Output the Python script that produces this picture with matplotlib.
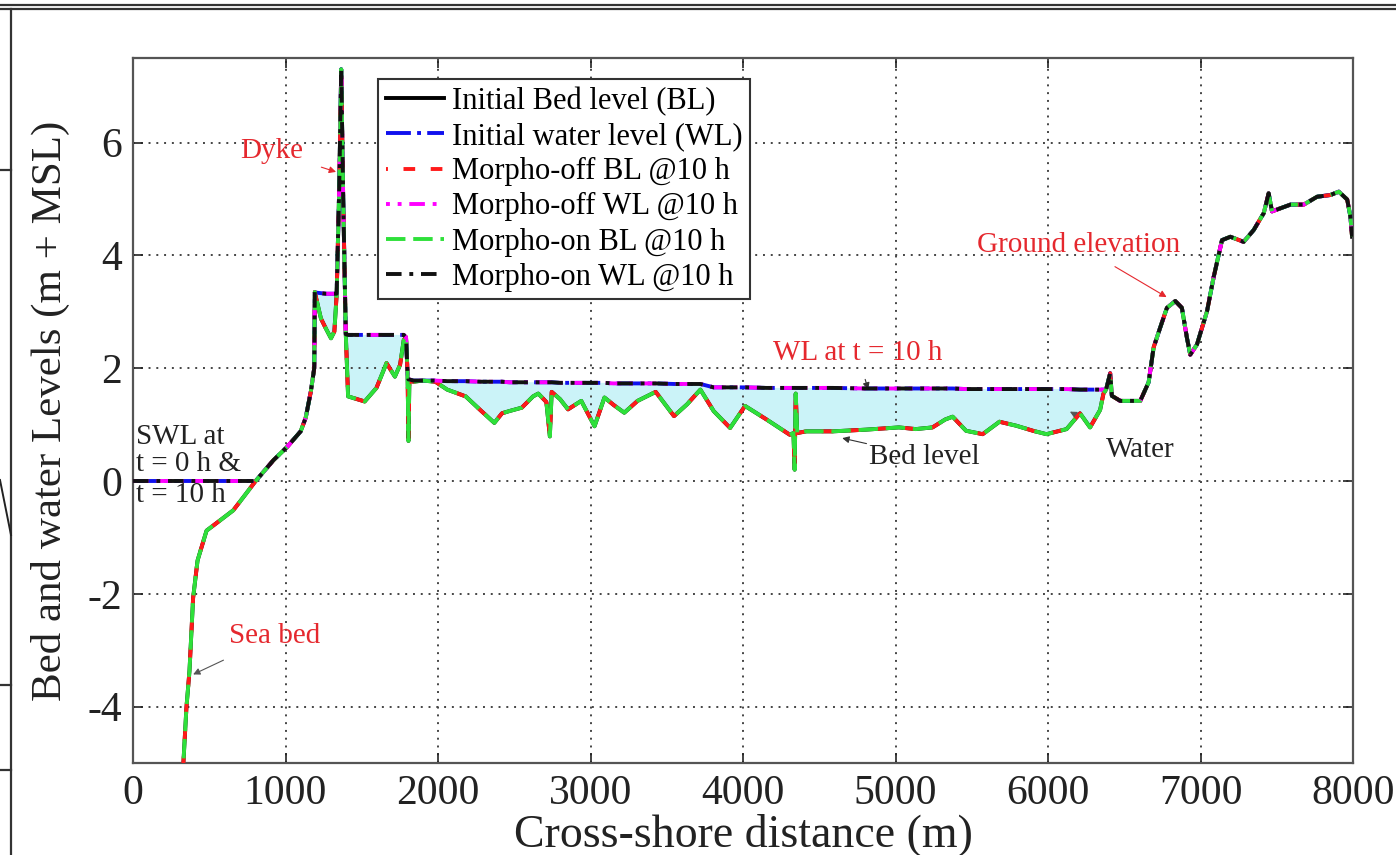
import numpy as np
import matplotlib
matplotlib.use("Agg")
import matplotlib.pyplot as plt
from matplotlib.lines import Line2D

plt.rcParams['font.family'] = ['Liberation Serif', 'DejaVu Serif']
plt.rcParams['axes.unicode_minus'] = False

# cross-shore profile (m, m + MSL)
dist = np.array([0, 322, 350, 370, 394, 423, 482, 570, 657, 731, 804, 921, 1009, 1099, 1132,
                 1166, 1188, 1192, 1200, 1232, 1265, 1298, 1320, 1335, 1352, 1365, 1378, 1395,
                 1410, 1470, 1519, 1596, 1662, 1717, 1751, 1775, 1790, 1800, 1806, 1812, 1839,
                 1900, 1982, 2060, 2181, 2280, 2369, 2419, 2468, 2549, 2623, 2657, 2710, 2733,
                 2745, 2800, 2852, 2939, 3026, 3091, 3150, 3221, 3308, 3427, 3547, 3633, 3720,
                 3807, 3915, 4013, 4154, 4306, 4330, 4338, 4345, 4355, 4414, 4588, 4805, 5022,
                 5132, 5242, 5325, 5374, 5462, 5571, 5681, 5791, 5901, 5989, 6121, 6209, 6275,
                 6341, 6363, 6380, 6407, 6418, 6473, 6604, 6659, 6692, 6735, 6779, 6834, 6877,
                 6910, 6932, 6976, 7042, 7085, 7140, 7195, 7282, 7348, 7414, 7446, 7468, 7589,
                 7676, 7764, 7851, 7906, 7961, 7982, 7993])

bed_level = np.array([np.nan, -5.40, -4.02, -3.37, -2.07, -1.41, -0.88, -0.70, -0.52, -0.26, 0.00,
                      0.37, 0.60, 0.88, 1.12, 1.59, 2.00, 3.35, 3.25, 2.88, 2.70, 2.53, 2.65, 3.30,
                      5.20, 7.30, 5.00, 2.60, 1.50, 1.45, 1.41, 1.65, 2.09, 1.85, 2.06, 2.50, 2.55,
                      1.90, 0.71, 1.78, 1.76, 1.78, 1.76, 1.62, 1.50, 1.25, 1.03, 1.20, 1.24, 1.30,
                      1.50, 1.55, 1.40, 0.79, 1.58, 1.45, 1.27, 1.42, 0.97, 1.48, 1.35, 1.21, 1.42,
                      1.58, 1.15, 1.36, 1.62, 1.24, 0.94, 1.33, 1.09, 0.82, 0.85, 0.20, 1.55, 0.85,
                      0.88, 0.88, 0.91, 0.95, 0.92, 0.95, 1.09, 1.14, 0.89, 0.83, 1.05, 0.98, 0.89,
                      0.83, 0.92, 1.20, 0.95, 1.26, 1.55, 1.62, 1.91, 1.51, 1.42, 1.42, 1.75, 2.37,
                      2.72, 3.07, 3.19, 3.07, 2.54, 2.24, 2.42, 3.01, 3.61, 4.27, 4.33, 4.24, 4.45,
                      4.75, 5.10, 4.78, 4.90, 4.90, 5.04, 5.07, 5.13, 4.99, 4.69, 4.33])

# water surface where the profile is wet (nan = dry, water level = bed)
n = np.nan
water_surface = np.array([0.00, 0.00, 0.00, 0.00, 0.00, 0.00, 0.00, 0.00, 0.00, 0.00, 0.00,
                          n, n, n, n, n, n, n, 3.34, 3.33, 3.32, 3.32, 3.32, 3.32,
                          n, n, n, n, 2.59, 2.59, 2.59, 2.59, 2.59, 2.59, 2.59, 2.59, n,
                          n, 1.80, 1.80, 1.78, 1.78, 1.78, 1.77, 1.77, 1.76, 1.76, 1.76, 1.75, 1.75,
                          1.75, 1.75, 1.75, 1.75, 1.75, 1.74, 1.74, 1.74, 1.74, 1.74, 1.73, 1.73, 1.73,
                          1.73, 1.72, 1.72, 1.72, 1.66, 1.66, 1.66, 1.65, 1.65, 1.65, 1.65, 1.65, 1.65,
                          1.65, 1.65, 1.64, 1.64, 1.64, 1.64, 1.64, 1.64, 1.63, 1.63, 1.63, 1.63, 1.63,
                          1.63, 1.63, 1.62, 1.62, 1.62, 1.62, n, n, n, n, n, n, n,
                          n, n, n, n, n, n, n, n, n, n, n, n, n,
                          n, n, n, n, n, n, n, n, n, n, n])

water_level = np.where(np.isnan(water_surface), bed_level, water_surface)

legend_labels = ["Initial Bed level (BL)", "Initial water level (WL)", "Morpho-off BL @10 h",
                 "Morpho-off WL @10 h", "Morpho-on BL @10 h", "Morpho-on WL @10 h"]

red = '#e5282e'

fig = plt.figure(figsize=(13.96, 8.55), dpi=100)
ax = fig.add_axes([0.0953, 0.1076, 0.874, 0.8246])

# ponded water between bed and water level (inland only)
wet = (water_level > bed_level + 0.01) & (dist > 1100)
mask = wet.copy()
mask[1:] |= wet[:-1]
mask[:-1] |= wet[1:]
ax.fill_between(dist, np.nan_to_num(bed_level, nan=-9), water_level, where=mask,
                color='#cbf3f8', lw=0, zorder=1)

lw = 2.8
ax.plot(dist, bed_level, color='k', lw=lw, ls='-', label=legend_labels[0], zorder=2)
ax.plot(dist, water_level, color='#1010ee', lw=lw, ls='-.', label=legend_labels[1], zorder=3)
ax.plot(dist, bed_level, color='#ff1a1a', lw=lw, ls=(2.5, (3, 4)), label=legend_labels[2], zorder=4)
ax.plot(dist, water_level, color='#ff00ff', lw=lw, ls=(3, (4, 2, 1, 2)), label=legend_labels[3], zorder=5)
ax.plot(dist, bed_level, color='#2ee03a', lw=lw, ls=(0, (5, 2)), label=legend_labels[4], zorder=6)
ax.plot(dist, water_level, color='#111111', lw=lw, ls=(0, (4, 2, 1, 2)), label=legend_labels[5], zorder=7)

ax.set_xlim(0, 8000)
ax.set_ylim(-5, 7.5)
ax.set_xticks(np.arange(0, 8001, 1000))
ax.set_yticks([-4, -2, 0, 2, 4, 6])
ax.grid(True, ls=(0, (1, 3)), color='#444444', lw=1.4)
ax.tick_params(direction='in', top=True, right=True, length=7, width=1.2,
               labelsize=30, pad=8, colors='#222222')
for s in ax.spines.values():
    s.set_color('#555555')
    s.set_linewidth(1.6)

ax.set_xlabel("Cross-shore distance (m)", fontsize=33, color='#222222')
ax.xaxis.set_label_coords(0.5, -0.102)
ax.xaxis.label.set_va('center')
ax.set_ylabel("Bed and water Levels (m + MSL)", fontsize=31, color='#222222')
ax.yaxis.set_label_coords(-0.068, 0.5)
ax.yaxis.label.set_va('center')

leg = ax.legend(loc='upper left', bbox_to_anchor=(0.2008, 0.970), borderaxespad=0,
                fontsize=22, handlelength=1.9, handletextpad=0.27, labelspacing=0.2,
                borderpad=0.25, fancybox=False, framealpha=1)
leg.get_frame().set_edgecolor('#333333')
leg.get_frame().set_linewidth(1.5)
leg.set_zorder(10)

# annotations
afs = 21
ax.annotate("Dyke", xy=(1331, 5.48), xytext=(906, 5.85), color=red, fontsize=afs,
            ha='center', va='center',
            arrowprops=dict(arrowstyle='-|>', color=red, lw=0.8, mutation_scale=10,
                            shrinkA=12, shrinkB=0))
ax.annotate("Sea bed", xy=(394, -3.43), xytext=(928, -2.75), color=red, fontsize=afs,
            ha='center', va='center',
            arrowprops=dict(arrowstyle='-|>', color='#555555', lw=0.8, mutation_scale=10,
                            shrinkA=14, shrinkB=0))
ax.annotate("WL at t = 10 h", xy=(4820, 1.62), xytext=(4750, 2.27), color=red, fontsize=afs,
            ha='center', va='center',
            arrowprops=dict(arrowstyle='-|>', color='#333333', lw=0.8, mutation_scale=10,
                            shrinkA=8, shrinkB=0))
ax.annotate("Ground elevation", xy=(6777, 3.26), xytext=(6200, 4.18), color=red, fontsize=afs,
            ha='center', va='center',
            arrowprops=dict(arrowstyle='-|>', color=red, lw=0.8, mutation_scale=10,
                            shrinkA=8, shrinkB=0))
ax.annotate("Bed level", xy=(4650, 0.76), xytext=(5190, 0.43), color='#222222', fontsize=afs,
            ha='center', va='center',
            arrowprops=dict(arrowstyle='-|>', color='#333333', lw=0.8, mutation_scale=10,
                            shrinkA=44, shrinkB=0))
ax.annotate("Water", xy=(6143, 1.23), xytext=(6603, 0.55), color='#222222', fontsize=afs,
            ha='center', va='center',
            arrowprops=dict(arrowstyle='-|>', color='#555555', lw=0.8, mutation_scale=10,
                            shrinkA=32, shrinkB=0))
for txt, yv in [("SWL at", 0.78), ("t = 0 h &", 0.31), ("t = 10 h", -0.24)]:
    ax.text(20, yv, txt, fontsize=21, color='#222222', ha='left', va='center', zorder=9)

# scan frame lines around the figure
W, H = 1396, 855
frame = [((0, W), (850, 850)), ((0, W), (846, 846)), ((11, 11), (0, 846)),
         ((0, 11), (685, 685)), ((0, 11), (170, 170)), ((0, 11), (85, 85))]
for xs, ys in frame:
    fig.add_artist(Line2D([xs[0] / W, xs[1] / W], [ys[0] / H, ys[1] / H],
                          color='#333333', lw=1.6))
fig.add_artist(Line2D([0 / W, 11 / W], [375 / H, 320 / H], color='#222222', lw=1.4))

fig.savefig("out.png", dpi=100)
